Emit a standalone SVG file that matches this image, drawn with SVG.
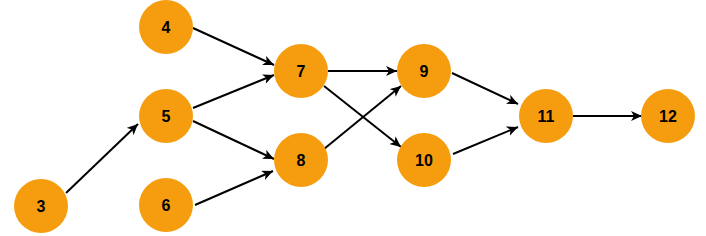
<svg xmlns="http://www.w3.org/2000/svg" width="706" height="236" viewBox="0 0 706 236">
<style>
.n circle{fill:#F59D0E;stroke:none}
.n text{font-family:"Liberation Sans",Arial,sans-serif;font-weight:bold;font-size:16px;fill:#000;text-anchor:middle;dominant-baseline:central}
.e line{stroke:#000;stroke-width:2;fill:none;marker-end:url(#arr)}
</style>
<defs>
<marker id="arr" markerUnits="userSpaceOnUse" markerWidth="12" markerHeight="10" viewBox="0 0 12 10" refX="11" refY="5" orient="auto">
<path d="M0,0 L11,5 L0,10 L3,5 z" fill="#000"/>
</marker>
</defs>
<rect width="706" height="236" fill="#fff"/>
<g id="connectors" class="e">
<line x1="66" y1="193" x2="138" y2="124"/>
<line x1="193" y1="28" x2="274" y2="65"/>
<line x1="193" y1="108" x2="274" y2="75"/>
<line x1="193" y1="121" x2="274" y2="159"/>
<line x1="195" y1="205" x2="273" y2="171"/>
<line x1="328" y1="71" x2="397" y2="71"/>
<line x1="324" y1="149" x2="401" y2="86"/>
<line x1="324" y1="86" x2="401" y2="147"/>
<line x1="452" y1="73" x2="518" y2="104"/>
<line x1="453" y1="154" x2="518" y2="127"/>
<line x1="573" y1="116" x2="642" y2="116"/>
</g>
<g id="node3" class="n"><circle cx="41" cy="206" r="27"/><text x="41" y="206">3</text></g>
<g id="node4" class="n"><circle cx="166" cy="27" r="27"/><text x="166" y="27">4</text></g>
<g id="node5" class="n"><circle cx="166" cy="116" r="27"/><text x="166" y="116">5</text></g>
<g id="node6" class="n"><circle cx="166" cy="205" r="27"/><text x="166" y="205">6</text></g>
<g id="node7" class="n"><circle cx="301" cy="71" r="27"/><text x="301" y="71">7</text></g>
<g id="node8" class="n"><circle cx="301" cy="160" r="27"/><text x="301" y="160">8</text></g>
<g id="node9" class="n"><circle cx="424" cy="71" r="27"/><text x="424" y="71">9</text></g>
<g id="node10" class="n"><circle cx="424" cy="160" r="27"/><text x="424" y="160">10</text></g>
<g id="node11" class="n"><circle cx="546" cy="116" r="27"/><text x="546" y="116">11</text></g>
<g id="node12" class="n"><circle cx="668" cy="116" r="27"/><text x="668" y="116">12</text></g>
</svg>
